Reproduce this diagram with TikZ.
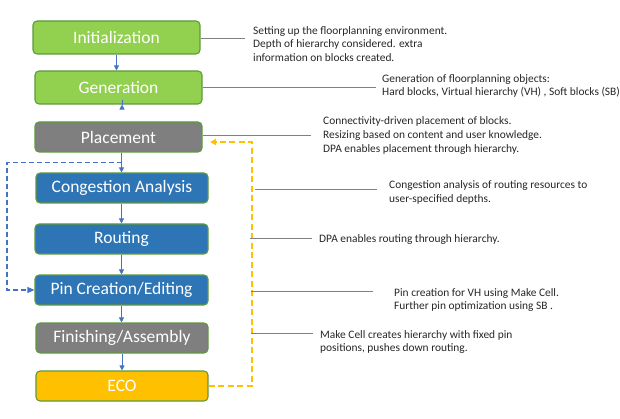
\documentclass[tikz,border=0pt]{standalone}
\usepackage{fontspec}
\setmainfont{Carlito}
\usetikzlibrary{arrows.meta}
\definecolor{bxgreen}{HTML}{92D050}
\definecolor{bxblue}{HTML}{2E75B6}
\definecolor{bxgray}{HTML}{7F7F7F}
\definecolor{bxyellow}{HTML}{FFC000}
\definecolor{bxedge}{HTML}{5E9A3C}
\definecolor{flowblue}{HTML}{4472C4}
\definecolor{connline}{HTML}{808080}
\definecolor{notetext}{HTML}{262626}
\tikzset{
  box/.style={draw=bxedge, line width=1.1pt, rounded corners=4pt, inner sep=0pt,
    text=white, font=\fontsize{17.5}{20}\selectfont},
  note/.style={anchor=west, inner sep=0pt, align=left, text=notetext,
    font=\fontsize{11.4}{13.6}\selectfont},
  flow/.style={draw=flowblue, line width=0.8pt, -{Triangle[width=5pt,length=5pt]}},
  conn/.style={draw=connline, line width=1pt},
  bluedash/.style={draw=flowblue, line width=1.2pt, dash pattern=on 5pt off 3pt,
    -{Triangle[width=6pt,length=7pt]}},
  ydash/.style={draw=bxyellow, line width=1.5pt, dash pattern=on 6pt off 3.5pt,
    -{Triangle[width=6pt,length=6pt]}},
}
\begin{document}
\begin{tikzpicture}[x=1pt,y=-1pt]
\useasboundingbox (0,0) rectangle (620,419);
% boxes
\node[box, fill=bxgreen, minimum width=167pt, minimum height=33pt] (init) at (116.5,37.5) {Initialization};
\node[box, fill=bxgreen, minimum width=167pt, minimum height=33pt] (gen) at (118.5,87.5) {Generation};
\node[box, fill=bxgray, minimum width=167pt, minimum height=30pt] (place) at (118.5,137) {Placement};
\node[box, fill=bxblue, minimum width=172pt, minimum height=30pt] (cong) at (122,188) {Congestion Analysis};
\node[box, fill=bxblue, minimum width=173pt, minimum height=30pt] (rout) at (121.5,239) {Routing};
\node[box, fill=bxblue, minimum width=173pt, minimum height=30pt] (pin) at (121.5,290) {Pin Creation/Editing};
\node[box, fill=bxgray, minimum width=172pt, minimum height=30pt] (fin) at (122,338) {Finishing/Assembly};
\node[box, fill=bxyellow, minimum width=172pt, minimum height=30pt] (eco) at (122,386) {ECO};
% flow arrows
\draw[flow] (init.south) -- (init.south |- gen.north);
\draw[flow] (gen.south -| cong.north) -- (gen.south -| cong.north |- place.north);
\coordinate (j) at (121.5,162.5);
\draw[flow] (place.south -| j) -- (j |- cong.north);
\draw[flow] (cong.south -| j) -- (j |- rout.north);
\draw[flow] (rout.south -| j) -- (j |- pin.north);
\draw[flow] (pin.south -| j) -- (j |- fin.north);
\draw[flow] (fin.south) -- (eco.north);
% dashed feedback paths
\coordinate (bl) at (7,162.5);
\draw[bluedash] (j) -- (bl) |- (pin.west);
\coordinate (ytop) at (252,142);
\coordinate (yend) at (210,142);
\draw[ydash] (eco.east) -| (ytop) -- (yend);
% notes
\node[note] (t1) at (253,44) {Setting up the floorplanning environment.\\Depth of hierarchy considered. extra\\information on blocks created.};
\node[note] (t2) at (382,86) {Generation of floorplanning objects:\\Hard blocks, Virtual hierarchy (VH) , Soft blocks (SB)};
\node[note] (t3) at (323,135.5) {Connectivity-driven placement of blocks.\\Resizing based on content and user knowledge.\\DPA enables placement through hierarchy.};
\node[note] (t4) at (389,192.5) {Congestion analysis of routing resources to\\user-specified depths.};
\node[note] (t5) at (319,240) {DPA enables routing through hierarchy.};
\node[note] (t6) at (394,300) {Pin creation for VH using Make Cell.\\Further pin optimization using SB .};
\node[note] (t7) at (320,342) {Make Cell creates hierarchy with fixed pin\\positions, pushes down routing.};
% note connectors
\coordinate (c1) at (245,38.5);
\draw[conn] (init.east |- c1) -- (c1);
\coordinate (c2) at (376,87.5);
\draw[conn] (gen.east) -- (c2);
\coordinate (c3) at (311,136);
\draw[conn] (place.east |- c3) -- (c3);
\coordinate (a4) at (255,190);
\coordinate (b4) at (377,190);
\draw[conn] (a4) -- (b4);
\coordinate (a5) at (250,239);
\coordinate (b5) at (312,239);
\draw[conn] (a5) -- (b5);
\coordinate (a6) at (251,291);
\coordinate (b6) at (373,291);
\draw[conn] (a6) -- (b6);
\coordinate (a7) at (251,333);
\coordinate (b7) at (313,333);
\draw[conn] (a7) -- (b7);
\end{tikzpicture}
\end{document}
